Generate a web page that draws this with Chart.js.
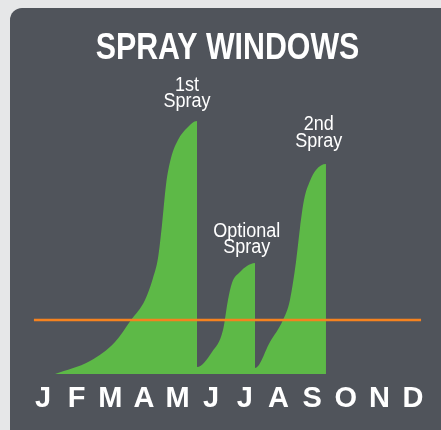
<!DOCTYPE html>
<html>
<head>
<meta charset="utf-8">
<script src="https://cdn.jsdelivr.net/npm/chart.js@4.4.1/dist/chart.umd.min.js"></script>
<style>
  html, body { margin: 0; padding: 0; background: #e6e7e8; }
  #wrap { position: relative; width: 441px; height: 430px; overflow: hidden; }
  #panel { position: absolute; left: 10px; top: 8px; width: 446px; height: 436px; background: #50545b; border-radius: 12px; }
  #myChart { position: absolute; left: 0; top: 0; }
</style>
</head>
<body>
<div id="wrap">
  <div id="panel"></div>
  <canvas id="myChart" width="441" height="430"></canvas>
</div>
<script>
// month ticks (x value = month index)
const months = ['J', 'F', 'M', 'A', 'M', 'J', 'J', 'A', 'S', 'O', 'N', 'D'];

// spray window outline, x in months, y in relative pressure (0-100)
const sprayX = [0.357, 1.397, 2.140, 2.616, 3.032, 3.270, 3.419, 3.537, 3.656, 3.805, 4.013, 4.281, 4.578,
                4.578, 5.024, 5.351, 5.499, 5.618, 5.856, 6.064, 6.302,
                6.302, 6.748, 7.134, 7.342, 7.521, 7.640, 7.759, 7.937, 8.115, 8.413,
                8.413];
const sprayY = [0, 4.33, 10.67, 18, 24.67, 32, 38.67, 49.67, 63, 72, 78, 82, 84.33,
                2.33, 7.33, 14.67, 24.67, 30.33, 34, 36, 37,
                2, 10.67, 18, 24.67, 37.33, 48.67, 58, 64.33, 68, 70,
                0];

// threshold line
const thresholdX = [-0.27, 11.24];
const thresholdY = [18, 18];

const titleText = 'SPRAY WINDOWS';
const sprayLabels = [['1st', 'Spray'], ['Optional', 'Spray'], ['2nd', 'Spray']];

// condensed look: Liberation Sans squeezed horizontally
const face = '"Liberation Sans", Arial, sans-serif';

const zip = (xs, ys) => xs.map((x, i) => ({ x: x, y: ys[i] }));

const drawText = (ctx, txt, x, y, font, sx) => {
  ctx.save();
  ctx.font = font;
  ctx.translate(x, y);
  ctx.scale(sx, 1);
  ctx.fillText(txt, 0, 0);
  ctx.restore();
};

const textPlugin = {
  id: 'sprayText',
  afterDatasetsDraw(chart) {
    const ctx = chart.ctx;
    const xs = chart.scales.x, ys = chart.scales.y;
    ctx.save();
    ctx.fillStyle = '#ffffff';
    ctx.textAlign = 'center';
    ctx.textBaseline = 'alphabetic';
    // title
    drawText(ctx, titleText, 227.5, 59, 'bold 37px ' + face, 0.82);
    // labels above each window: [month, value of lower baseline]
    const spots = [[4.28, 89], [6.06, 40.3], [8.20, 75.7]];
    sprayLabels.forEach((lines, i) => {
      const px = xs.getPixelForValue(spots[i][0]);
      const py = ys.getPixelForValue(spots[i][1]);
      drawText(ctx, lines[0], px, py - 16.5, '20px ' + face, 0.9);
      drawText(ctx, lines[1], px, py, '20px ' + face, 0.9);
    });
    ctx.restore();
  }
};

const graph = new Chart('myChart', {
  type: 'line',
  data: {
    datasets: [
      {
        data: zip(thresholdX, thresholdY),
        borderColor: '#f5821f',
        borderWidth: 2.5,
        pointRadius: 0,
        fill: false
      },
      {
        data: zip(sprayX, sprayY),
        borderWidth: 0,
        borderColor: 'rgba(0,0,0,0)',
        backgroundColor: '#5db947',
        pointRadius: 0,
        cubicInterpolationMode: 'monotone',
        fill: 'origin'
      }
    ]
  },
  options: {
    responsive: false,
    animation: false,
    devicePixelRatio: 1,
    layout: { padding: { left: 26.2, right: 11.2, top: 74, bottom: 14.4 } },
    plugins: { legend: { display: false }, tooltip: { enabled: false }, title: { display: false } },
    scales: {
      x: {
        type: 'linear',
        min: -0.5,
        max: 11.5,
        grid: { display: false, drawTicks: false },
        border: { display: false },
        afterBuildTicks: (scale) => { scale.ticks = months.map((m, i) => ({ value: i })); },
        afterFit: (scale) => { scale.height = 41.6; },
        ticks: {
          padding: 8,
          color: '#ffffff',
          maxRotation: 0,
          autoSkip: false,
          font: { family: face, weight: 'bold', size: 29 },
          callback: (v) => months[v]
        }
      },
      y: {
        display: false,
        min: 0,
        max: 100
      }
    }
  },
  plugins: [textPlugin]
});
</script>
</body>
</html>
